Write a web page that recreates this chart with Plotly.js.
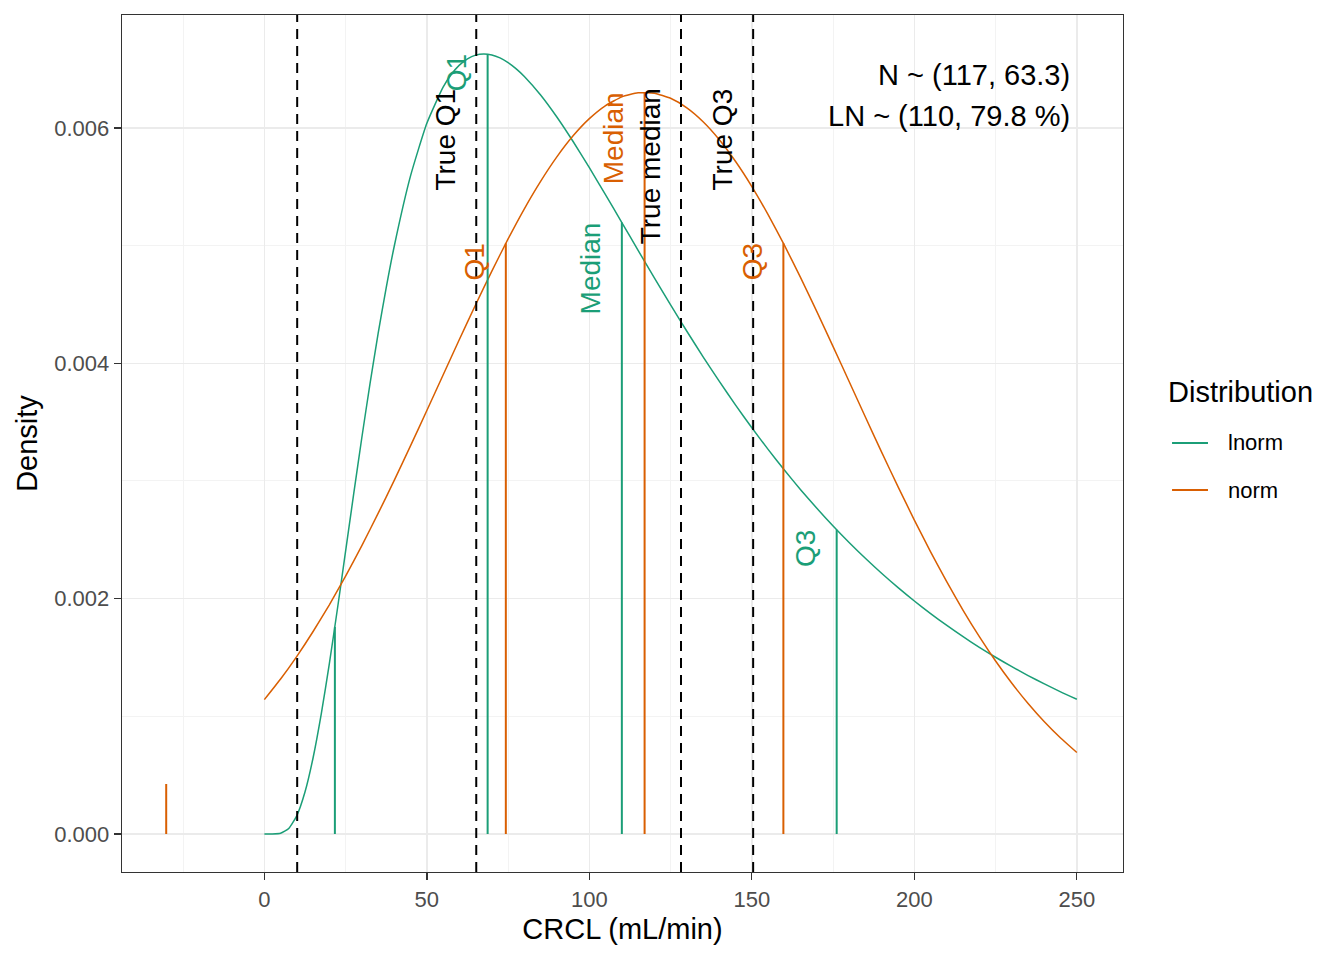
<!DOCTYPE html>
<html>
<head>
<meta charset="utf-8">
<script src="https://cdn.plot.ly/plotly-3.0.1.min.js"></script>
<style>html,body{margin:0;padding:0;background:#fff;}#chart{width:1344px;height:960px;}</style>
</head>
<body>
<div id="chart"></div>
<script>
// ---- data ----
const seriesNames = ["lnorm", "norm"];
const seriesColors = ["#1B9E77", "#D95F02"];
const legendTitle = "Distribution";

const lnormX = [0, 2.5, 5, 7.5, 10, 12.5, 15, 17.5, 20, 22.5, 25, 27.5, 30, 32.5, 35, 37.5, 40,
  45, 50, 55, 57.5, 60, 62.5, 65, 67.5, 70, 72.5, 75, 77.5, 80, 85, 90, 95, 100, 105, 110, 115, 120,
  125, 130, 135, 140, 145, 150, 155, 160, 165, 170, 175, 180, 185, 190, 195, 200, 205, 210, 215, 220,
  225, 230, 235, 240, 245, 250];
const lnormY = [0, 0.0000001, 0.0000063, 0.0000465, 0.0001564, 0.0003566, 0.0006481, 0.0010184, 0.0014479,
  0.0019162, 0.0024031, 0.0028918, 0.0033694, 0.0038252, 0.0042515, 0.0046437, 0.0049992,
  0.0055946, 0.0060396, 0.0063468, 0.0064540, 0.0065338, 0.0065878, 0.0066191, 0.0066290, 0.0066206,
  0.0065956, 0.0065556, 0.0065027, 0.0064382, 0.0062806, 0.0060934, 0.0058851, 0.0056624, 0.0054313,
  0.0051959, 0.0049599, 0.0047260, 0.0044963, 0.0042724, 0.0040554, 0.0038459, 0.0036448, 0.0034521,
  0.0032682, 0.0030929, 0.0029261, 0.0027679, 0.0026178, 0.0024756, 0.0023411, 0.0022140, 0.0020938,
  0.0019803, 0.0018732, 0.0017720, 0.0016767, 0.0015867, 0.0015019, 0.0014218, 0.0013464, 0.0012752,
  0.0012081, 0.0011447];

const normX = [0, 5, 10, 15, 20, 25, 30, 35, 40, 45, 50, 55, 60, 65, 70, 75, 80, 85, 90, 95, 100,
  105, 110, 115, 120, 125, 130, 135, 140, 145, 150, 155, 160, 165, 170, 175, 180, 185, 190, 195, 200,
  205, 210, 215, 220, 225, 230, 235, 240, 245, 250];
const normY = [0.001142, 0.001317, 0.001510, 0.001721, 0.001948, 0.002192, 0.002451, 0.002724, 0.003007,
  0.003300, 0.003599, 0.003901, 0.004202, 0.004498, 0.004784, 0.005057, 0.005313, 0.005546, 0.005754,
  0.005933, 0.006079, 0.006190, 0.006264, 0.006299, 0.006295, 0.006252, 0.006171, 0.006053, 0.005900,
  0.005715, 0.005502, 0.005263, 0.005004, 0.004728, 0.004439, 0.004142, 0.003841, 0.003539, 0.003241,
  0.002950, 0.002668, 0.002398, 0.002142, 0.001901, 0.001677, 0.001470, 0.001281, 0.001109, 0.000954,
  0.000816, 0.000693];

// quantile segments (1%, Q1, median, Q3)
const lnormQx = [21.7, 68.7, 110, 176.1];
const lnormQy = [0.00176, 0.006627, 0.005196, 0.002585];
const lnormQlab = ["", "Q1", "Median", "Q3"];
const normQx = [-30.2, 74.3, 117, 159.7];
const normQy = [0.000425, 0.00502, 0.0063, 0.00502];
const normQlab = ["", "Q1", "Median", "Q3"];

// "true" reference values (dashed lines)
const trueX = [10.1, 65.2, 128.2, 150.4];
const trueLab = ["", "True Q1", "True median", "True Q3"];
const trueLabY = 0.00632;

const infoLines = ["N ~ (117, 63.3)", "LN ~ (110, 79.8 %)"];

const xTicks = [0, 50, 100, 150, 200, 250];
const yTicks = [0, 0.002, 0.004, 0.006];

// ---- build ----
const FONT = "Liberation Sans, Arial, sans-serif";

function segTrace(xs, ys, color) {
  const sx = [], sy = [];
  xs.forEach((x, i) => { sx.push(x, x, null); sy.push(0, ys[i], null); });
  return {x: sx, y: sy, mode: "lines", type: "scatter", showlegend: false, hoverinfo: "skip",
          line: {color: color, width: 2}};
}

const traces = [
  {x: lnormX, y: lnormY, name: seriesNames[0], showlegend: false, type: "scatter", mode: "lines",
   line: {color: seriesColors[0], width: 1.5, shape: "spline", smoothing: 0.5}},
  {x: normX, y: normY, name: seriesNames[1], showlegend: false, type: "scatter", mode: "lines",
   line: {color: seriesColors[1], width: 1.5, shape: "spline", smoothing: 0.5}},
  segTrace(lnormQx, lnormQy, seriesColors[0]),
  segTrace(normQx, normQy, seriesColors[1])
];

const shapes = trueX.map(x => ({type: "line", xref: "x", yref: "paper", x0: x, x1: x, y0: 0, y1: 1,
  line: {color: "#000000", width: 2, dash: "10px,7px"}, layer: "above"}));

const annotations = [];
function qLabels(xs, ys, labs, color) {
  xs.forEach((x, i) => {
    if (!labs[i]) return;
    annotations.push({x: x, y: ys[i], xref: "x", yref: "y", text: labs[i], showarrow: false,
      textangle: -90, xanchor: "center", yanchor: "top", xshift: -31, yshift: 2,
      font: {family: FONT, size: 28, color: color}});
  });
}
qLabels(lnormQx, lnormQy, lnormQlab, seriesColors[0]);
qLabels(normQx, normQy, normQlab, seriesColors[1]);
trueX.forEach((x, i) => {
  if (!trueLab[i]) return;
  annotations.push({x: x, y: trueLabY, xref: "x", yref: "y", text: trueLab[i], showarrow: false,
    textangle: -90, xanchor: "center", yanchor: "top", xshift: -31, yshift: 4,
    font: {family: FONT, size: 28, color: "#000000"}});
});
annotations.push({x: 0.949, y: 0.930, xref: "paper", yref: "paper", text: infoLines[0], showarrow: false,
  xanchor: "right", yanchor: "middle", font: {family: FONT, size: 29, color: "#000000"}});
annotations.push({x: 0.949, y: 0.882, xref: "paper", yref: "paper", text: infoLines[1], showarrow: false,
  xanchor: "right", yanchor: "middle", font: {family: FONT, size: 29, color: "#000000"}});

// legend (title, keys, labels) placed to the right of the panel
const legY = [0.5006, 0.4457];
annotations.push({x: 1.043, y: 0.5601, xref: "paper", yref: "paper", text: legendTitle, showarrow: false,
  xanchor: "left", yanchor: "middle", font: {family: FONT, size: 29, color: "#000000"}});
seriesNames.forEach((nm, i) => {
  annotations.push({x: 1.1029, y: legY[i], xref: "paper", yref: "paper", text: nm, showarrow: false,
    xanchor: "left", yanchor: "middle", font: {family: FONT, size: 22, color: "#000000"}});
  shapes.push({type: "line", xref: "paper", yref: "paper", x0: 1.049, x1: 1.0849, y0: legY[i], y1: legY[i],
    line: {color: seriesColors[i], width: 2}});
});

const axisCommon = {
  ticks: "outside", ticklen: 7, tickwidth: 1.3, tickcolor: "#333333",
  showline: true, mirror: true, linecolor: "#333333", linewidth: 1.3,
  showgrid: true, gridcolor: "#EBEBEB", gridwidth: 1.4, zeroline: false,
  tickfont: {family: FONT, size: 22, color: "#4D4D4D"}
};

const layout = {
  width: 1344, height: 960,
  margin: {l: 122, r: 221, t: 15, b: 88, pad: 0},
  paper_bgcolor: "#FFFFFF", plot_bgcolor: "#FFFFFF",
  font: {family: FONT, color: "#000000"},
  showlegend: false,
  xaxis: Object.assign({}, axisCommon, {
    range: [-43.8, 264.2], tickmode: "array", tickvals: xTicks, ticktext: xTicks.map(String),
    minor: {dtick: 25, tick0: 0, showgrid: true, gridcolor: "#F3F3F3", gridwidth: 1, ticks: ""},
    title: {text: "CRCL (mL/min)", font: {family: FONT, size: 29, color: "#000000"}, standoff: 8}
  }),
  yaxis: Object.assign({}, axisCommon, {
    range: [-0.000323, 0.00696], tickmode: "array", tickvals: yTicks, ticktext: yTicks.map(v => v.toFixed(3)),
    minor: {dtick: 0.001, tick0: 0, showgrid: true, gridcolor: "#F3F3F3", gridwidth: 1, ticks: ""},
    title: {text: "Density", font: {family: FONT, size: 29, color: "#000000"}, standoff: 8}
  }),
  shapes: shapes,
  annotations: annotations
};

Plotly.newPlot("chart", traces, layout, {displayModeBar: false, staticPlot: true});
</script>
</body>
</html>
